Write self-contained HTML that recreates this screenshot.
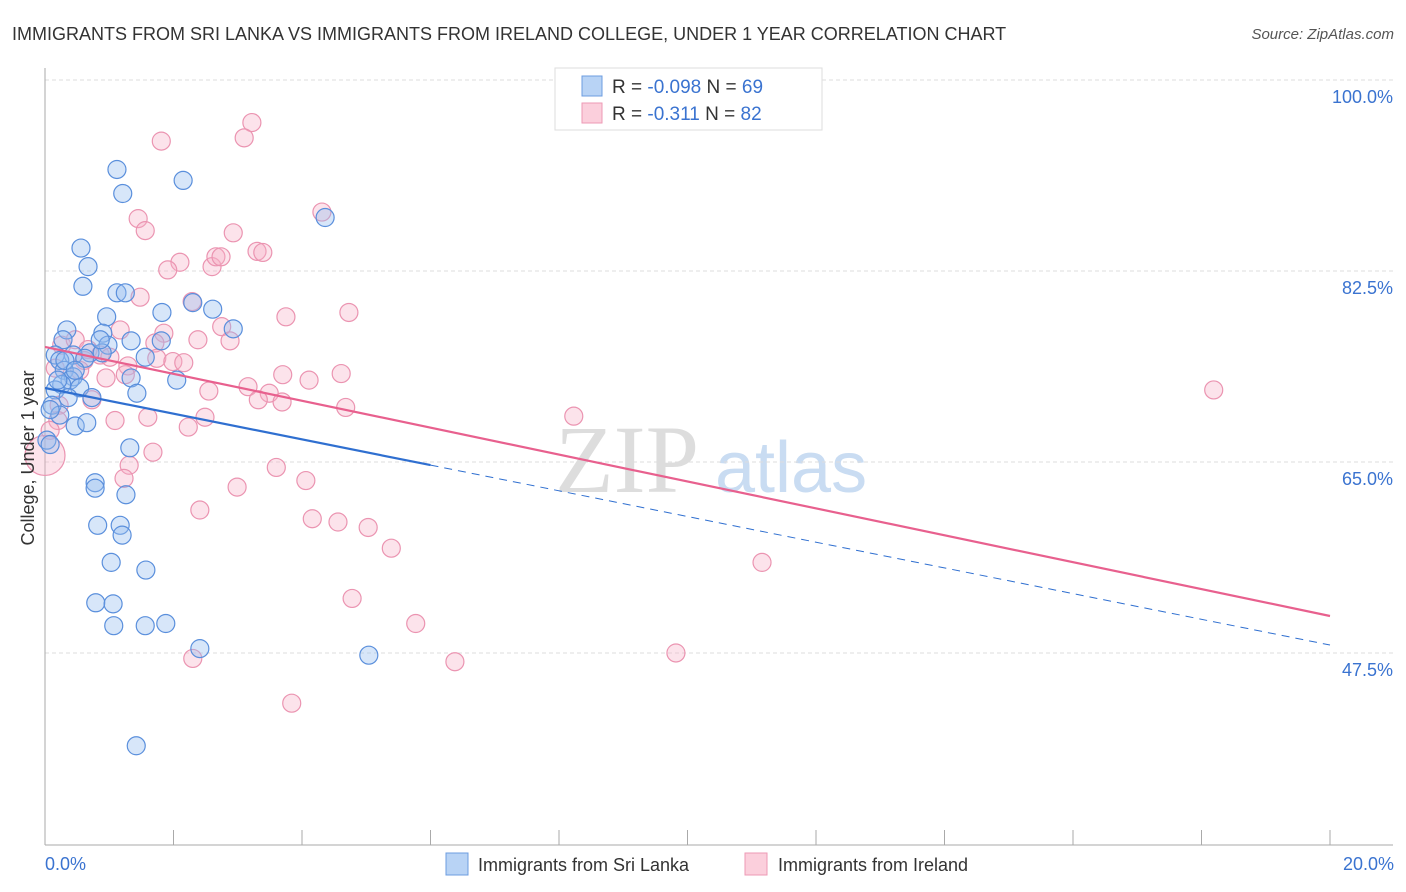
<!DOCTYPE html>
<html><head><meta charset="utf-8"><style>
body{margin:0;background:#fff;font-family:"Liberation Sans",sans-serif}
svg{display:block}
</style></head><body>
<svg id="chart" width="1406" height="892">
<text x="12" y="40" font-size="18" fill="#333">IMMIGRANTS FROM SRI LANKA VS IMMIGRANTS FROM IRELAND COLLEGE, UNDER 1 YEAR CORRELATION CHART</text>
<text x="1394" y="39" font-size="15" fill="#555" text-anchor="end" font-style="italic">Source: ZipAtlas.com</text>
<g>
<text x="555" y="492" font-size="96" fill="#ddd" font-family="Liberation Serif,serif">ZIP</text>
<text x="715" y="492" font-size="72" fill="#c9dcf2">atlas</text>
</g>
<g id="grid"></g>
<g id="axes"></g>
<g id="pts"></g>
<g id="lines"></g>
<text transform="translate(34,458) rotate(-90)" font-size="18" fill="#333" text-anchor="middle">College, Under 1 year</text>
<text x="45" y="870" font-size="18" fill="#3a73d0">0.0%</text>
<text x="1394" y="870" font-size="18" fill="#3a73d0" text-anchor="end">20.0%</text>
<g>
<rect x="555" y="68" width="267" height="62" fill="#fff" stroke="#ddd"/>
<rect x="582" y="76" width="20" height="20" fill="#b8d3f5" stroke="#6c9de0"/>
<rect x="582" y="103" width="20" height="20" fill="#fbcfdc" stroke="#ee9ab5"/>
<text x="612" y="93" font-size="19" fill="#333">R = <tspan fill="#3a73d0">-0.098</tspan>   N = <tspan fill="#3a73d0">69</tspan></text>
<text x="612" y="120" font-size="19" fill="#333">R =  <tspan fill="#3a73d0"> -0.311</tspan>   N = <tspan fill="#3a73d0">82</tspan></text>
</g>
<g>
<rect x="446" y="853" width="22" height="22" fill="#b8d3f5" stroke="#6c9de0"/>
<text x="478" y="871" font-size="18" fill="#333">Immigrants from Sri Lanka</text>
<rect x="745" y="853" width="22" height="22" fill="#fbcfdc" stroke="#ee9ab5"/>
<text x="778" y="871" font-size="18" fill="#333">Immigrants from Ireland</text>
</g>
</svg>
<script>
const yTicks=[100,82.5,65,47.5];
const yTickLabels=["100.0%","82.5%","65.0%","47.5%"];
const xTicks=[0,2,4,6,8,10,12,14,16,18,20];
const blueX=[1.12,1.21,2.15,4.36,0.56,0.67,0.59,1.12,1.25,2.30,2.61,1.82,0.96,0.34,0.90,2.93,0.28,1.34,1.81,0.98,0.16,0.44,0.70,0.89,1.56,0.23,0.62,0.30,0.44,0.39,1.34,2.05,0.26,0.16,0.54,1.43,0.36,0.73,0.11,0.23,0.47,0.65,0.03,1.32,0.08,0.78,0.78,1.26,0.82,1.17,1.20,1.03,1.57,0.79,1.06,1.07,1.56,1.88,2.41,5.04,1.42,0.08,0.20,0.31,0.86,0.47];
const blueY=[91.8,89.6,90.8,87.4,84.6,82.9,81.1,80.5,80.5,79.6,79.0,78.7,78.3,77.1,76.8,77.2,76.2,76.1,76.1,75.7,74.8,74.8,75.0,75.0,74.6,74.3,74.5,73.4,72.8,72.5,72.7,72.5,72.1,71.6,71.8,71.3,70.9,70.9,70.2,69.3,68.3,68.6,67.0,66.3,66.6,63.1,62.6,62.0,59.2,59.2,58.3,55.8,55.1,52.1,52.0,50.0,50.0,50.2,47.9,47.3,39.0,69.8,72.5,74.3,76.2,73.4];
const pinkX=[1.81,3.22,3.10,4.31,1.45,1.56,2.93,3.30,3.39,2.10,1.91,2.60,2.66,2.74,1.48,2.29,3.75,4.73,0.26,2.75,1.17,1.85,2.88,2.38,1.71,0.47,0.67,0.86,0.61,1.01,1.74,1.99,2.16,1.29,3.70,4.11,4.61,0.95,1.25,3.16,2.55,3.49,3.32,3.69,0.73,0.22,4.68,8.23,18.19,1.60,1.09,2.49,2.23,0.20,1.68,1.31,3.60,4.06,1.23,2.99,2.41,4.16,4.56,5.03,5.39,11.16,4.78,5.77,2.30,6.38,9.82,3.84,0.08,0.54,0.16,0];
const pinkY=[94.4,96.1,94.7,87.9,87.3,86.2,86.0,84.3,84.2,83.3,82.6,82.9,83.8,83.8,80.1,79.7,78.3,78.7,75.7,77.4,77.1,76.8,76.1,76.2,75.9,76.2,75.3,74.8,74.3,74.6,74.5,74.2,74.1,73.8,73.0,72.5,73.1,72.7,73.0,71.9,71.5,71.3,70.7,70.5,70.7,70.2,70.0,69.2,71.6,69.1,68.8,69.1,68.2,68.8,65.9,64.7,64.5,63.3,63.5,62.7,60.6,59.8,59.5,59.0,57.1,55.8,52.5,50.2,47.0,46.7,47.5,42.9,67.9,73.4,73.6,65.6];
const pinkR=[9,9,9,9,9,9,9,9,9,9,9,9,9,9,9,9,9,9,9,9,9,9,9,9,9,9,9,9,9,9,9,9,9,9,9,9,9,9,9,9,9,9,9,9,9,9,9,9,9,9,9,9,9,9,9,9,9,9,9,9,9,9,9,9,9,9,9,9,9,9,9,9,9,9,9,20];
const blueTrend=[71.78,48.23], blueSolidEnd=6;
const pinkTrend=[75.54,50.89];
const NS="http://www.w3.org/2000/svg";
const X=v=>45+v*64.25, Y=v=>80+(100-v)*10.914;
function mk(t,a,p){const e=document.createElementNS(NS,t);for(const k in a)e.setAttribute(k,a[k]);p.appendChild(e);return e;}
const grid=document.getElementById('grid'),axes=document.getElementById('axes'),pts=document.getElementById('pts'),lines=document.getElementById('lines');
yTicks.forEach((t,i)=>{
 const l=mk('line',{x1:45,x2:1393,y1:Y(t),y2:Y(t),stroke:'#ddd','stroke-dasharray':'4,3'},grid);
 
 
 const tx=mk('text',{x:1393,y:Y(t)+23,'font-size':18,fill:'#3a73d0','text-anchor':'end'},grid);
 tx.textContent=yTickLabels[i];
 
 
});
const ya=mk('line',{x1:45,x2:45,y1:68,y2:845,stroke:'#aaa'},axes);


const xa=mk('line',{x1:45,x2:1393,y1:845,y2:845,stroke:'#aaa'},axes);


xTicks.forEach(t=>{
 const l=mk('line',{x1:X(t),x2:X(t),y1:830,y2:845,stroke:'#aaa'},axes);
 
 
});
pinkX.forEach((v,i)=>{
 const c=mk('circle',{cx:X(v),cy:Y(pinkY[i]),r:pinkR[i],fill:'rgba(246,175,198,0.35)',stroke:'#eb94b1','stroke-width':1.2},pts);
 
 
});
blueX.forEach((v,i)=>{
 const c=mk('circle',{cx:X(v),cy:Y(blueY[i]),r:9,fill:'rgba(150,190,240,0.38)',stroke:'#5a8fdc','stroke-width':1.2},pts);
 
 
});
const bAt=x=>blueTrend[0]+(blueTrend[1]-blueTrend[0])*x/20;
const b1=mk('line',{x1:X(0),y1:Y(bAt(0)),x2:X(blueSolidEnd),y2:Y(bAt(blueSolidEnd)),stroke:'#2f6fd0','stroke-width':2.2},lines);


const b2=mk('line',{x1:X(blueSolidEnd),y1:Y(bAt(blueSolidEnd)),x2:X(20),y2:Y(bAt(20)),stroke:'#2f6fd0','stroke-width':1,'stroke-dasharray':'8,6'},lines);


const p1=mk('line',{x1:X(0),y1:Y(pinkTrend[0]),x2:X(20),y2:Y(pinkTrend[1]),stroke:'#e8608e','stroke-width':2.2},lines);


</script>
</body></html>
